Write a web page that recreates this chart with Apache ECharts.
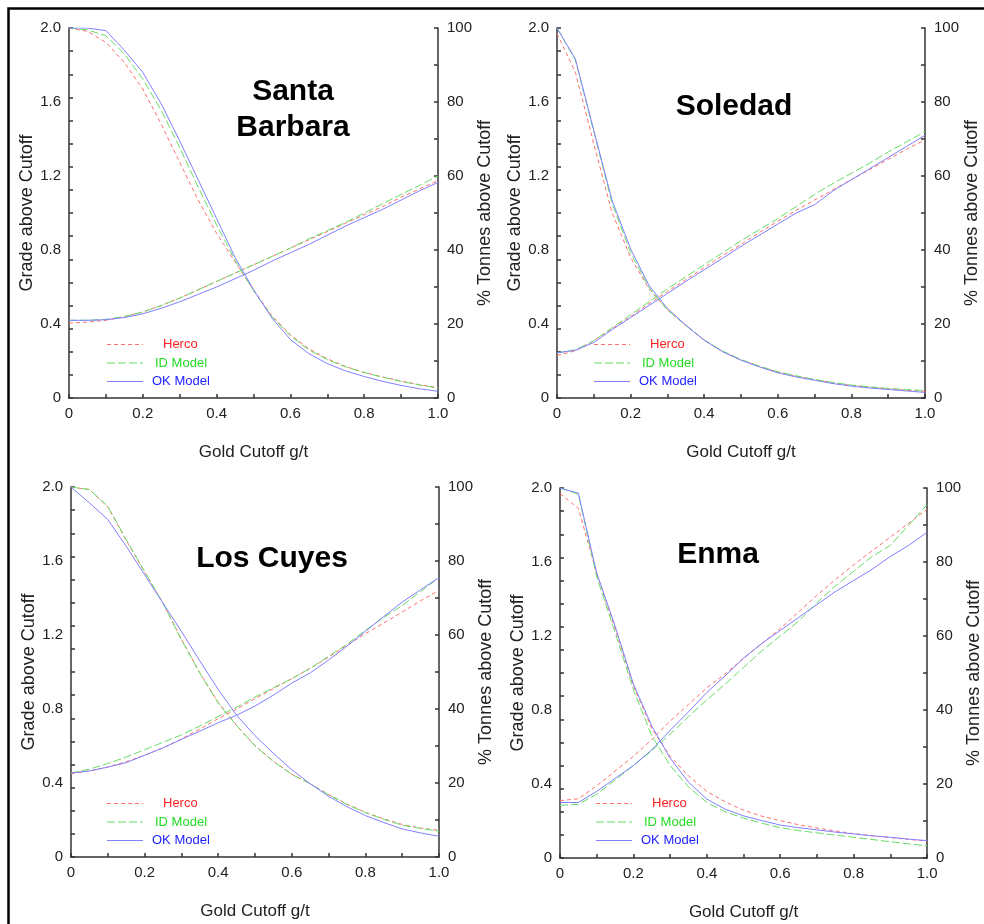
<!DOCTYPE html>
<html>
<head>
<meta charset="utf-8">
<title>Grade Tonnage Curves</title>
<script src="https://cdn.jsdelivr.net/npm/echarts@6/dist/echarts.min.js"></script>
<style>
  html, body { margin: 0; padding: 0; background: #ffffff; }
  #main { width: 984px; height: 924px; }
</style>
</head>
<body>
<div id="main"></div>
<script>
// cutoff grades g/t (x axis)
var cutoffs = [0, 0.05, 0.1, 0.15, 0.2, 0.25, 0.3, 0.35, 0.4, 0.45, 0.5, 0.55, 0.6, 0.65, 0.7, 0.75, 0.8, 0.85, 0.9, 0.95, 1.0];

// Santa Barbara
var sbGradeHerco = [0.405, 0.41, 0.42, 0.44, 0.465, 0.5, 0.54, 0.585, 0.63, 0.675, 0.72, 0.765, 0.81, 0.855, 0.9, 0.945, 0.99, 1.035, 1.085, 1.13, 1.175];
var sbGradeID = [0.42, 0.42, 0.425, 0.44, 0.465, 0.5, 0.54, 0.585, 0.63, 0.675, 0.72, 0.765, 0.81, 0.86, 0.905, 0.95, 1.0, 1.05, 1.1, 1.15, 1.2];
var sbGradeOK = [0.42, 0.42, 0.423, 0.435, 0.455, 0.485, 0.52, 0.56, 0.6, 0.645, 0.69, 0.74, 0.785, 0.83, 0.88, 0.93, 0.975, 1.02, 1.07, 1.12, 1.165];
var sbTonHerco = [100, 99.1, 96.1, 90.7, 83.5, 74, 63.7, 53.5, 44.5, 36.8, 29.2, 22.2, 17.1, 13.3, 10.6, 8.5, 6.9, 5.7, 4.6, 3.6, 2.8];
var sbTonID = [100, 99.5, 97.9, 93, 86.2, 77.7, 67.7, 57, 46.8, 37.2, 29, 22, 16.8, 13, 10.4, 8.4, 6.9, 5.6, 4.5, 3.5, 2.7];
var sbTonOK = [100, 100, 99.3, 94, 88, 79.5, 69.5, 59, 48.5, 38, 29.3, 21.6, 15.8, 12, 9.3, 7.3, 5.8, 4.5, 3.4, 2.5, 1.8];

// Soledad
var soGradeHerco = [0.23, 0.255, 0.31, 0.375, 0.44, 0.51, 0.575, 0.64, 0.705, 0.77, 0.83, 0.895, 0.955, 1.015, 1.07, 1.125, 1.18, 1.235, 1.29, 1.345, 1.395];
var soGradeID = [0.244, 0.26, 0.31, 0.38, 0.45, 0.52, 0.59, 0.655, 0.72, 0.785, 0.85, 0.91, 0.97, 1.035, 1.1, 1.16, 1.215, 1.27, 1.33, 1.385, 1.44];
var soGradeOK = [0.244, 0.258, 0.3, 0.37, 0.435, 0.5, 0.565, 0.63, 0.693, 0.755, 0.82, 0.88, 0.94, 1.0, 1.045, 1.12, 1.18, 1.24, 1.3, 1.36, 1.42];
var soTonHerco = [98.5, 88, 68.7, 50, 38, 29.5, 23.8, 19.6, 15.6, 12.6, 10.3, 8.5, 7, 5.9, 4.9, 4.1, 3.4, 2.9, 2.5, 2.1, 1.8];
var soTonID = [100, 91.3, 72, 52.5, 39.3, 29.8, 23.8, 19.6, 15.7, 12.7, 10.4, 8.6, 7.1, 6, 5, 4.2, 3.5, 3, 2.6, 2.3, 2.0];
var soTonOK = [100, 91.6, 72.3, 53.3, 40.3, 30.4, 24.2, 19.7, 15.6, 12.5, 10.2, 8.4, 6.8, 5.7, 4.8, 3.9, 3.2, 2.7, 2.3, 1.9, 1.5];

// Los Cuyes
var lcGradeHerco = [0.45, 0.465, 0.486, 0.515, 0.55, 0.59, 0.638, 0.692, 0.748, 0.8, 0.856, 0.91, 0.964, 1.02, 1.08, 1.145, 1.207, 1.265, 1.324, 1.385, 1.441];
var lcGradeID = [0.454, 0.475, 0.505, 0.54, 0.58, 0.62, 0.66, 0.708, 0.76, 0.81, 0.865, 0.915, 0.964, 1.02, 1.085, 1.15, 1.225, 1.295, 1.36, 1.435, 1.51];
var lcGradeOK = [0.454, 0.465, 0.486, 0.51, 0.55, 0.59, 0.636, 0.68, 0.726, 0.766, 0.816, 0.875, 0.94, 0.995, 1.065, 1.14, 1.22, 1.3, 1.378, 1.445, 1.51];
var lcTonHerco = [100, 99.3, 94.6, 85.6, 77, 68.6, 58.9, 49.8, 41.8, 35.6, 30.1, 25.9, 22.4, 19.8, 16.9, 14.3, 12.1, 10.3, 8.8, 7.8, 7.2];
var lcTonID = [100, 99.3, 94.8, 85.8, 77.2, 68.6, 58.7, 49.7, 41.6, 35.5, 30, 25.8, 22.3, 19.8, 16.8, 14.2, 12, 10.2, 8.6, 7.7, 7.0];
var lcTonOK = [100, 95.7, 91.2, 84, 76.3, 68.6, 61, 53, 45.3, 38.3, 32.8, 28, 23.6, 19.8, 16.4, 13.6, 11.2, 9.3, 7.6, 6.5, 5.6];

// Enma
var enGradeHerco = [0.31, 0.32, 0.39, 0.47, 0.55, 0.64, 0.74, 0.83, 0.92, 0.995, 1.08, 1.16, 1.24, 1.33, 1.42, 1.505, 1.585, 1.66, 1.735, 1.81, 1.885];
var enGradeID = [0.285, 0.29, 0.345, 0.42, 0.5, 0.58, 0.67, 0.765, 0.855, 0.94, 1.03, 1.12, 1.2, 1.28, 1.38, 1.47, 1.55, 1.63, 1.69, 1.8, 1.91];
var enGradeOK = [0.3, 0.3, 0.36, 0.43, 0.5, 0.585, 0.69, 0.79, 0.895, 0.985, 1.08, 1.16, 1.23, 1.3, 1.37, 1.44, 1.5, 1.56, 1.63, 1.69, 1.76];
var enTonHerco = [98.5, 94.5, 77, 62, 46.5, 35, 27.5, 22.2, 18, 15.2, 12.9, 11.3, 10.1, 9, 8.1, 7.3, 6.6, 6, 5.5, 5, 4.6];
var enTonID = [100, 98.3, 76, 61, 45.5, 33, 25, 19.2, 15, 12.5, 10.8, 9.4, 8.2, 7.4, 6.8, 6.2, 5.6, 5, 4.4, 3.8, 3.3];
var enTonOK = [100, 98.6, 77, 62.7, 47, 35.7, 27, 20.5, 15.9, 13.2, 11.4, 10.1, 8.9, 8.2, 7.6, 7, 6.5, 6, 5.6, 5.1, 4.7];

var mineNames = ['Santa\nBarbara', 'Soledad', 'Los Cuyes', 'Enma'];
var modelNames = ['Herco', 'ID Model', 'OK Model'];
var gradeData = [
  [sbGradeHerco, sbGradeID, sbGradeOK],
  [soGradeHerco, soGradeID, soGradeOK],
  [lcGradeHerco, lcGradeID, lcGradeOK],
  [enGradeHerco, enGradeID, enGradeOK]
];
var tonData = [
  [sbTonHerco, sbTonID, sbTonOK],
  [soTonHerco, soTonID, soTonOK],
  [lcTonHerco, lcTonID, lcTonOK],
  [enTonHerco, enTonID, enTonOK]
];

// layout of the four panels
var grids = [
  { left: 69, right: 546, top: 28, bottom: 526 },
  { left: 557, right: 59, top: 28, bottom: 526 },
  { left: 71, right: 545, top: 487, bottom: 67 },
  { left: 560, right: 55, top: 488, bottom: 66 }
];
var titlePos = [[293, 74], [734, 89], [272, 541], [718, 537]];
var legendPos = [[107, 338], [594, 338], [107, 797], [596, 797]];

var lineColors = ['#ff7070', '#66dd66', '#8080ff'];
var textColors = ['#ff2222', '#22dd22', '#2222ff'];
var lineTypes = [[4, 3], [8, 3], 'solid'];
var textPads = [15, 7, 4];
// legend samples: thin dashed / solid strokes drawn as paths
var legendIcons = [
  'path://M0,0h4v1h-4z M7,0h4v1h-4z M14,0h4v1h-4z M21,0h4v1h-4z M28,0h4v1h-4z M35,0h1v1h-1z',
  'path://M0,0h8v1h-8z M11,0h8v1h-8z M22,0h8v1h-8z M33,0h3v1h-3z',
  'path://M0,0h36v1h-36z'
];

var FONT = '"Liberation Sans", Arial, Helvetica, sans-serif';
var axisColor = '#333333';

function pairs(ys) {
  return cutoffs.map(function (x, i) { return [x, ys[i]]; });
}

function buildOption() {
  var option = {
    animation: false,
    backgroundColor: '#ffffff',
    textStyle: { fontFamily: FONT },
    grid: [], xAxis: [], yAxis: [], series: [], title: [], legend: [],
    graphic: [{
      type: 'rect',
      shape: { x: 8.5, y: 8.5, width: 1100, height: 1100 },
      style: { fill: 'none', stroke: '#000000', lineWidth: 2.5 },
      silent: true
    }]
  };

  for (var p = 0; p < 4; p++) {
    option.grid.push(grids[p]);

    option.xAxis.push({
      type: 'value', gridIndex: p, min: 0, max: 1, interval: 0.1,
      name: 'Gold Cutoff g/t', nameLocation: 'middle', nameGap: 46,
      nameTextStyle: { fontSize: 17, color: '#222', fontFamily: FONT },
      axisLine: { lineStyle: { color: axisColor, width: 1.5 } },
      axisTick: { inside: true, length: 4, lineStyle: { color: axisColor, width: 1.5 } },
      axisLabel: {
        fontSize: 15, color: '#222', margin: 8, fontFamily: FONT,
        formatter: function (v) {
          var k = Math.round(v * 10);
          if (k % 2) return '';
          return k === 0 ? '0' : v.toFixed(1);
        }
      },
      splitLine: { show: false }
    });

    // left axis: labels every 0.4
    option.yAxis.push({
      type: 'value', gridIndex: p, position: 'left', min: 0, max: 2, interval: 0.4,
      name: 'Grade above Cutoff', nameLocation: 'middle', nameGap: 33,
      nameTextStyle: { fontSize: 18, color: '#222', fontFamily: FONT },
      axisLine: { show: true, lineStyle: { color: axisColor, width: 1.5 } },
      axisTick: { show: false },
      axisLabel: {
        fontSize: 15, color: '#222', margin: 8, fontFamily: FONT,
        formatter: function (v) { return v === 0 ? '0' : v.toFixed(1); }
      },
      splitLine: { show: false }
    });
    // left axis: tick marks every 0.125
    option.yAxis.push({
      type: 'value', gridIndex: p, position: 'left', min: 0, max: 2, interval: 0.125,
      axisLine: { show: false },
      axisTick: { show: true, inside: true, length: 4, lineStyle: { color: axisColor, width: 1.5 } },
      axisLabel: { show: false },
      splitLine: { show: false }
    });
    // right axis: tonnes %
    option.yAxis.push({
      type: 'value', gridIndex: p, position: 'right', min: 0, max: 100, interval: 10,
      name: '% Tonnes above Cutoff', nameLocation: 'middle', nameGap: 33,
      nameTextStyle: { fontSize: 18, color: '#222', fontFamily: FONT },
      axisLine: { show: true, lineStyle: { color: axisColor, width: 1.5 } },
      axisTick: { inside: true, length: 4, lineStyle: { color: axisColor, width: 1.5 } },
      axisLabel: {
        fontSize: 15, color: '#222', margin: 9, fontFamily: FONT,
        formatter: function (v) { return v % 20 === 0 ? String(v) : ''; }
      },
      splitLine: { show: false }
    });

    for (var m = 0; m < 3; m++) {
      var style = { color: lineColors[m], width: 1, type: lineTypes[m] };
      option.series.push({
        type: 'line', name: modelNames[m], xAxisIndex: p, yAxisIndex: p * 3,
        data: pairs(gradeData[p][m]), symbol: 'none', showSymbol: false,
        lineStyle: style, itemStyle: { color: lineColors[m] }, silent: true
      });
      option.series.push({
        type: 'line', name: modelNames[m], xAxisIndex: p, yAxisIndex: p * 3 + 2,
        data: pairs(tonData[p][m]), symbol: 'none', showSymbol: false,
        lineStyle: style, itemStyle: { color: lineColors[m] }, silent: true
      });
    }

    option.title.push({
      text: mineNames[p], left: titlePos[p][0], top: titlePos[p][1], textAlign: 'center', padding: 0,
      textStyle: { fontSize: 30, fontWeight: 'bold', color: '#000', lineHeight: 36, fontFamily: FONT }
    });

    option.legend.push({
      orient: 'vertical', left: legendPos[p][0], top: legendPos[p][1], padding: 0,
      itemWidth: 36, itemHeight: 1, itemGap: 5.5, selectedMode: false,
      textStyle: { fontSize: 13, fontFamily: FONT },
      data: modelNames.map(function (n, i) {
        return {
          name: n,
          icon: legendIcons[i],
          itemStyle: { color: lineColors[i] },
          textStyle: { color: textColors[i], padding: [0, 0, 0, textPads[i]] }
        };
      })
    });
  }
  return option;
}

var chart = echarts.init(document.getElementById('main'), null, { renderer: 'canvas' });
chart.setOption(buildOption());
</script>
</body>
</html>
